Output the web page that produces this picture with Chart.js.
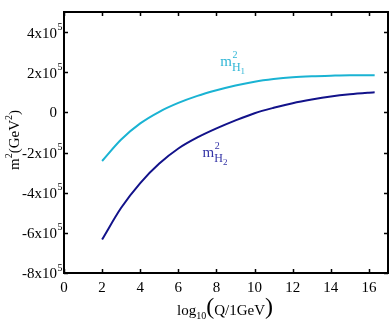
<!DOCTYPE html>
<html>
<head>
<meta charset="utf-8">
<script src="https://cdn.jsdelivr.net/npm/chart.js@4"></script>
<style>
  html, body { margin: 0; padding: 0; background: #fff; }
  #wrap { width: 390px; height: 329px; }
</style>
</head>
<body>
<div id="wrap"><canvas id="massChart" width="390" height="329"></canvas></div>
<script>
// running Higgs soft masses vs scale (values in units of 1e5 GeV^2)
var scaleLog = [2, 3, 4, 5, 6, 7, 8, 9, 10, 11, 12, 13, 14, 15, 16, 16.3];
var mH1sq = [-2.42, -1.35, -0.55, 0.03, 0.47, 0.82, 1.1, 1.34, 1.53, 1.66, 1.75, 1.8, 1.83, 1.85, 1.85, 1.85];
var mH2sq = [-6.33, -4.75, -3.52, -2.55, -1.8, -1.25, -0.8, -0.4, -0.04, 0.23, 0.46, 0.64, 0.79, 0.9, 0.98, 1.0];
var xTicks = [0, 2, 4, 6, 8, 10, 12, 14, 16];
var yTicks = [-8, -6, -4, -2, 0, 2, 4];
var UNIT = 1e5;

var SERIF = '"Liberation Serif", "DejaVu Serif", serif';
var cyan = '#1ab3d3';
var navy = '#12128a';

function pts(ys) {
  return scaleLog.map(function (x, i) { return { x: x, y: ys[i] * UNIT }; });
}

// draw a run of text pieces with their own size / vertical offset
function drawRich(ctx, parts, x, y, align) {
  var total = 0;
  parts.forEach(function (p) {
    ctx.font = p.size + 'px ' + SERIF;
    p.w = ctx.measureText(p.t).width;
    total += p.w;
  });
  var cx = align === 'center' ? x - total / 2 : x;
  ctx.textAlign = 'left';
  ctx.textBaseline = 'alphabetic';
  parts.forEach(function (p) {
    ctx.font = p.size + 'px ' + SERIF;
    ctx.fillText(p.t, cx, y + (p.dy || 0));
    cx += p.w;
  });
}

var frameAndLabels = {
  id: 'frameAndLabels',
  afterDraw: function (chart) {
    var ctx = chart.ctx;
    var a = chart.chartArea;
    var xs = chart.scales.x, ys = chart.scales.y;
    ctx.save();

    // box
    ctx.strokeStyle = '#000';
    ctx.lineWidth = 2;
    ctx.strokeRect(a.left, a.top, a.right - a.left, a.bottom - a.top);

    // inward ticks
    ctx.lineWidth = 1.5;
    ctx.beginPath();
    xTicks.forEach(function (t) {
      var px = Math.round(xs.getPixelForValue(t)) + 0.5;
      ctx.moveTo(px, a.bottom); ctx.lineTo(px, a.bottom - 4);
      ctx.moveTo(px, a.top); ctx.lineTo(px, a.top + 4);
    });
    yTicks.forEach(function (t) {
      var py = Math.round(ys.getPixelForValue(t * UNIT)) + 0.5;
      ctx.moveTo(a.left, py); ctx.lineTo(a.left + 4, py);
      ctx.moveTo(a.right, py); ctx.lineTo(a.right - 4, py);
    });
    ctx.stroke();

    ctx.fillStyle = '#000';
    // x tick labels
    ctx.font = '15px ' + SERIF;
    ctx.textAlign = 'center';
    ctx.textBaseline = 'alphabetic';
    xTicks.forEach(function (t) {
      ctx.fillText(String(t), xs.getPixelForValue(t), a.bottom + 19);
    });

    // y tick labels  (N x 10^5)
    yTicks.forEach(function (t) {
      var py = ys.getPixelForValue(t * UNIT);
      ctx.font = '15px ' + SERIF;
      ctx.textAlign = 'right';
      ctx.textBaseline = 'middle';
      if (t === 0) {
        ctx.fillText('0', a.left - 7, py + 1);
        return;
      }
      ctx.fillText(t + 'x10', a.left - 7, py + 1.5);
      ctx.font = '10px ' + SERIF;
      ctx.textAlign = 'left';
      ctx.textBaseline = 'alphabetic';
      ctx.fillText('5', a.left - 6.5, py - 2.5);
    });

    // y axis title
    ctx.save();
    ctx.translate(19, 140);
    ctx.rotate(-Math.PI / 2);
    drawRich(ctx, [
      { t: 'm', size: 15 },
      { t: '2', size: 10, dy: -7 },
      { t: '(GeV', size: 15 },
      { t: '2', size: 10, dy: -7 },
      { t: ')', size: 15 }
    ], 0, 0, 'center');
    ctx.restore();

    // x axis title
    drawRich(ctx, [
      { t: 'log', size: 15 },
      { t: '10', size: 10, dy: 4 },
      { t: '(', size: 24, dy: -1 },
      { t: 'Q/1GeV', size: 15 },
      { t: ')', size: 24, dy: -1 }
    ], 225, 315, 'center');

    // curve labels
    function massLabel(color, idx, xv, yv) {
      ctx.fillStyle = color;
      var px = xs.getPixelForValue(xv), py = ys.getPixelForValue(yv * UNIT);
      ctx.font = '15px ' + SERIF;
      var mw = ctx.measureText('m').width;
      drawRich(ctx, [{ t: 'm', size: 15 }], px, py, 'left');
      drawRich(ctx, [{ t: '2', size: 10 }], px + mw + 0.5, py - 8, 'left');
      ctx.font = '12px ' + SERIF;
      var hw = ctx.measureText('H').width;
      drawRich(ctx, [{ t: 'H', size: 12 }], px + mw, py + 5, 'left');
      drawRich(ctx, [{ t: idx, size: 9 }], px + mw + hw, py + 8, 'left');
    }
    massLabel('#2fb6d6', '1', 8.2, 2.29);
    massLabel('#3434a6', '2', 7.27, -2.23);

    ctx.restore();
  }
};

var ctx = document.getElementById('massChart').getContext('2d');
var massChart = new Chart(ctx, {
  type: 'line',
  data: {
    datasets: [
      {
        label: 'mH1^2',
        data: pts(mH1sq),
        borderColor: cyan,
        borderWidth: 2,
        pointRadius: 0,
        cubicInterpolationMode: 'monotone',
        fill: false
      },
      {
        label: 'mH2^2',
        data: pts(mH2sq),
        borderColor: navy,
        borderWidth: 2,
        pointRadius: 0,
        cubicInterpolationMode: 'monotone',
        fill: false
      }
    ]
  },
  options: {
    responsive: false,
    animation: false,
    layout: { padding: { left: 64, top: 12, right: 2, bottom: 56 } },
    plugins: {
      legend: { display: false },
      tooltip: { enabled: false }
    },
    scales: {
      x: { type: 'linear', display: false, min: 0, max: 17 },
      y: { type: 'linear', display: false, min: -8 * UNIT, max: 5 * UNIT }
    }
  },
  plugins: [frameAndLabels]
});
</script>
</body>
</html>
